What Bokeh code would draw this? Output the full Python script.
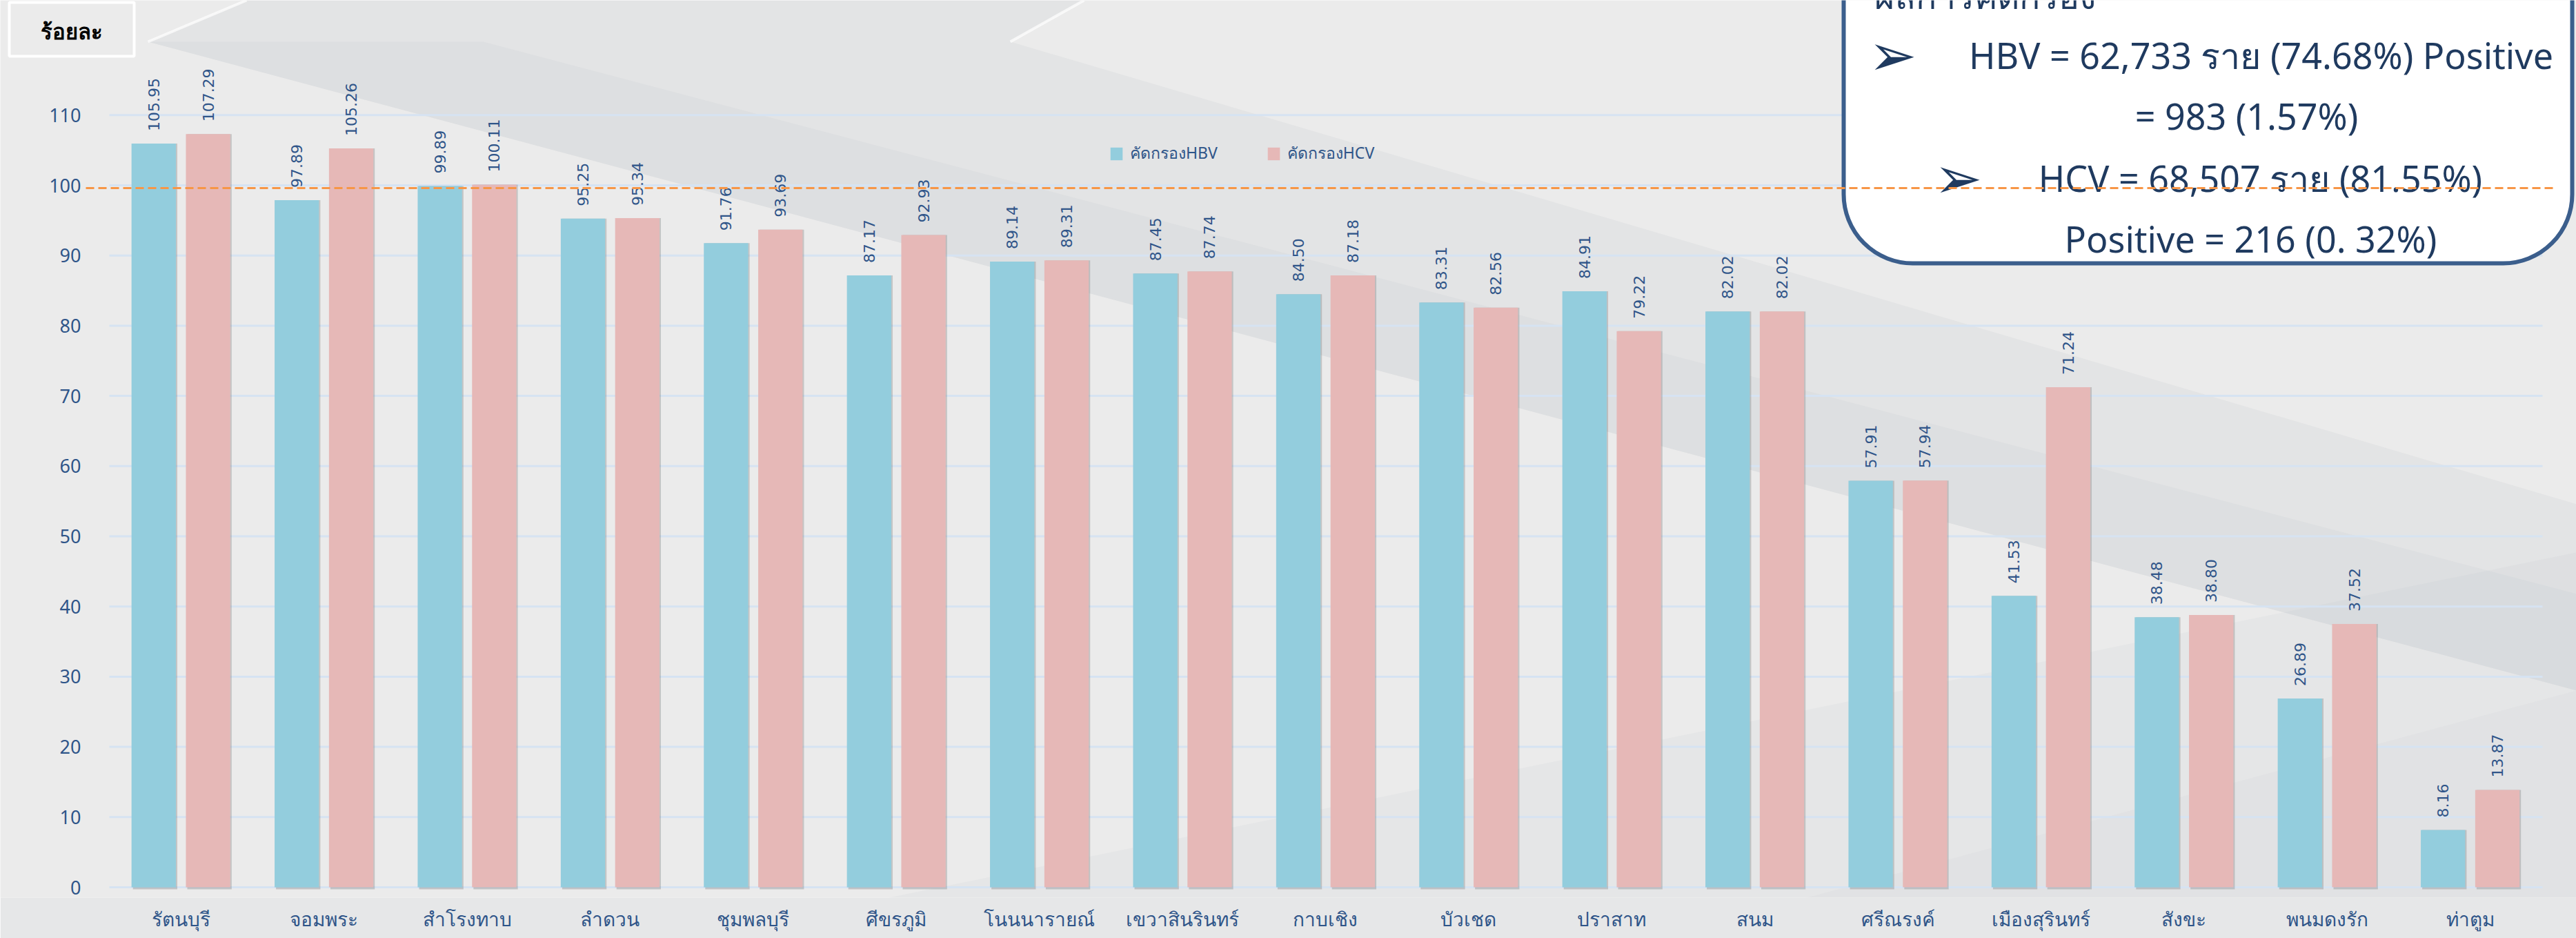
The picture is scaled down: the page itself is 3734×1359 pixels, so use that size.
import math
from bokeh.plotting import figure
from bokeh.models import (ColumnDataSource, FixedTicker, BoxAnnotation, Label,
                          Legend, LegendItem, Range1d)
from bokeh.transform import dodge
from bokeh.core.properties import value
from bokeh.embed import file_html
from bokeh.resources import INLINE

# ---------------- data ----------------
districts = ["รัตนบุรี", "จอมพระ", "สำโรงทาบ", "ลำดวน", "ชุมพลบุรี", "ศีขรภูมิ",
             "โนนนารายณ์", "เขวาสินรินทร์", "กาบเชิง", "บัวเชด", "ปราสาท", "สนม",
             "ศรีณรงค์", "เมืองสุรินทร์", "สังขะ", "พนมดงรัก", "ท่าตูม"]
hbv = [105.95, 97.89, 99.89, 95.25, 91.76, 87.17, 89.14, 87.45, 84.50, 83.31,
       84.91, 82.02, 57.91, 41.53, 38.48, 26.89, 8.16]
hcv = [107.29, 105.26, 100.11, 95.34, 93.69, 92.93, 89.31, 87.74, 87.18, 82.56,
       79.22, 82.02, 57.94, 71.24, 38.80, 37.52, 13.87]
series_names = ["คัดกรองHBV", "คัดกรองHCV"]
y_ticks = [0, 10, 20, 30, 40, 50, 60, 70, 80, 90, 100, 110]
y_tick_labels = [str(t) for t in y_ticks]
target_line = 99.6
unit_label = "ร้อยละ"
summary_title = "ผลการคัดกรอง"
summary_lines = ["HBV = 62,733 ราย (74.68%) Positive", "= 983 (1.57%)",
                 "HCV = 68,507 ราย (81.55%)", "Positive = 216 (0. 32%)"]

# ---------------- layout ----------------
W, H = 3734, 1359
ZERO_PX = 1285              # pixel row of value 0
FH = 1300                   # frame bottom pixel row
B = H - FH
FW = W
CAT_PX = 207.4              # pixels per category
UNIT_PX = 10.17             # pixels per percent
X0 = -0.5 - 158 / CAT_PX
X1 = X0 + FW / CAT_PX
Y0 = -(FH - ZERO_PX) / UNIT_PX
Y1 = ZERO_PX / UNIT_PX


def fx(px):
    return X0 + px / CAT_PX


def fy(py):
    return (ZERO_PX - py) / UNIT_PX


BLUE = "#93CDDD"
PINK = "#E6B8B7"
TXT = "#2f5589"
NAVY = "#1f3a5f"
BAR_OFF = 0.19
BAR_W = 0.31

idx = list(range(len(districts)))
src = ColumnDataSource(dict(
    idx=idx, hbv=hbv, hcv=hcv,
    hbv_lbl=[f"{v:.2f}" for v in hbv],
    hcv_lbl=[f"{v:.2f}" for v in hcv],
))

p = figure(frame_width=FW, frame_height=FH,
           x_range=Range1d(X0, X1), y_range=Range1d(Y0, Y1),
           y_axis_location=None,
           output_backend="svg", toolbar_location=None,
           min_border_left=0, min_border_right=0, min_border_top=0,
           min_border_bottom=B)
p.outline_line_color = None
p.background_fill_color = "#ebebeb"
p.border_fill_color = "#e6e7e8"
p.grid.grid_line_color = None

# decorative background facets (reference pixel coordinates)
bg_shapes = [
    ([(214, 60), (357, 0), (1571, 0), (1464, 60), (3734, 730), (3734, 1000)], "#9aa4b2", 0.10),
    ([(214, 60), (3734, 1000), (3734, 860), (700, 60)], "#9aa4b2", 0.08),
    ([(1000, 1359), (3734, 1359), (3734, 800)], "#9aa4b2", 0.07),
    ([(2400, 1359), (3734, 1359), (3734, 1000)], "#9aa4b2", 0.05),
]
for pts, col, a in bg_shapes:
    p.patch([fx(x) for x, _ in pts], [fy(y) for _, y in pts],
            fill_color=col, fill_alpha=a, line_color=None, level="image")
for pts in [[(214, 60), (357, 0)], [(1464, 60), (1571, 0)]]:
    p.line([fx(x) for x, _ in pts], [fy(y) for _, y in pts],
           line_color="white", line_alpha=0.7, line_width=4, level="image")

# horizontal grid lines and y tick labels
p.segment(x0=fx(158), x1=fx(3685), y0=y_ticks, y1=y_ticks,
          line_color="#d6e3f2", line_width=3, level="underlay")
p.text(x=[fx(117)] * len(y_ticks), y=y_ticks, text=y_tick_labels,
       text_align="right", text_baseline="middle",
       text_font=value("Noto Sans"), text_font_size="27px", text_color=TXT)

# category axis
p.xaxis.ticker = FixedTicker(ticks=idx)
p.xaxis.major_label_overrides = {i: d for i, d in enumerate(districts)}
p.xaxis.axis_line_color = None
p.xaxis.major_tick_line_color = None
p.xaxis.minor_tick_line_color = None
p.xaxis.major_label_text_color = TXT
p.xaxis.major_label_text_font = "Noto Sans"
p.xaxis.major_label_text_font_size = "28px"
p.xaxis.major_label_standoff = 5

# bar shadows
for col, off in (("hbv", -BAR_OFF), ("hcv", BAR_OFF)):
    p.vbar(x=dodge("idx", off + 0.01, range=p.x_range), top=col, bottom=-0.3,
           width=BAR_W, source=src, fill_color="#7f7f7f", fill_alpha=0.35, line_color=None)

r1 = p.vbar(x=dodge("idx", -BAR_OFF, range=p.x_range), top="hbv", width=BAR_W,
            source=src, fill_color=BLUE, line_color=None)
r2 = p.vbar(x=dodge("idx", BAR_OFF, range=p.x_range), top="hcv", width=BAR_W,
            source=src, fill_color=PINK, line_color=None)

for col, lbl, off in (("hbv", "hbv_lbl", -BAR_OFF), ("hcv", "hcv_lbl", BAR_OFF)):
    p.text(x=dodge("idx", off, range=p.x_range), y=col, text=lbl, source=src,
           angle=math.pi / 2, text_align="left", text_baseline="middle",
           y_offset=-18, text_font=value("DejaVu Sans"), text_font_size="22px",
           text_color=TXT)

legend = Legend(items=[LegendItem(label=series_names[0], renderers=[r1]),
                       LegendItem(label=series_names[1], renderers=[r2])],
                orientation="horizontal", location=(1607, 1060),
                padding=0, margin=0, spacing=70, label_standoff=9,
                glyph_width=22, glyph_height=23,
                label_text_font="Noto Sans", label_text_font_size="23px",
                label_text_color=TXT, background_fill_alpha=0,
                border_line_color=None)
p.add_layout(legend)

# summary box (top right)
box = BoxAnnotation(left=fx(2672), right=fx(3728), top=fy(-150), bottom=fy(381),
                    fill_color="white", fill_alpha=1, line_color="#3b5e8c",
                    line_alpha=1, line_width=6, border_radius=100)
p.add_layout(box)

# target line drawn over the box
p.segment(x0=[fx(124)], x1=[fx(3705)], y0=[target_line], y1=[target_line],
          line_color="#F79646", line_width=3, line_dash="12 6", level="overlay")

BOX_FONT = "Noto Sans"
p.add_layout(Label(x=fx(2716), y=fy(-7), text=summary_title, text_align="left",
                   text_baseline="alphabetic", text_font=BOX_FONT,
                   text_font_size="50px", text_color=NAVY))
for (ax_, ay_) in ((2743, 79), (2838, 257)):
    p.add_layout(Label(x=fx(ax_), y=fy(ay_), text="➢", text_align="center",
                       text_baseline="middle", text_font="DejaVu Sans",
                       text_font_size="84px", text_color=NAVY))
for line, (cx, cy) in zip(summary_lines, ((3277, 79), (3256, 167), (3276, 257), (3262, 345))):
    p.add_layout(Label(x=fx(cx), y=fy(cy), text=line, text_align="center",
                       text_baseline="middle", text_font=BOX_FONT,
                       text_font_size="52px", text_color=NAVY))

# unit label box (top left)
p.add_layout(BoxAnnotation(left=fx(13), right=fx(194), top=fy(3), bottom=fy(81),
                           fill_alpha=0, line_color="white", line_alpha=1, line_width=4))
p.add_layout(Label(x=fx(103), y=fy(44), text=unit_label, text_align="center",
                   text_baseline="middle", text_font="Noto Sans",
                   text_font_style="bold", text_font_size="31px", text_color="black"))

open("out.html", "w").write(file_html(p, INLINE))
